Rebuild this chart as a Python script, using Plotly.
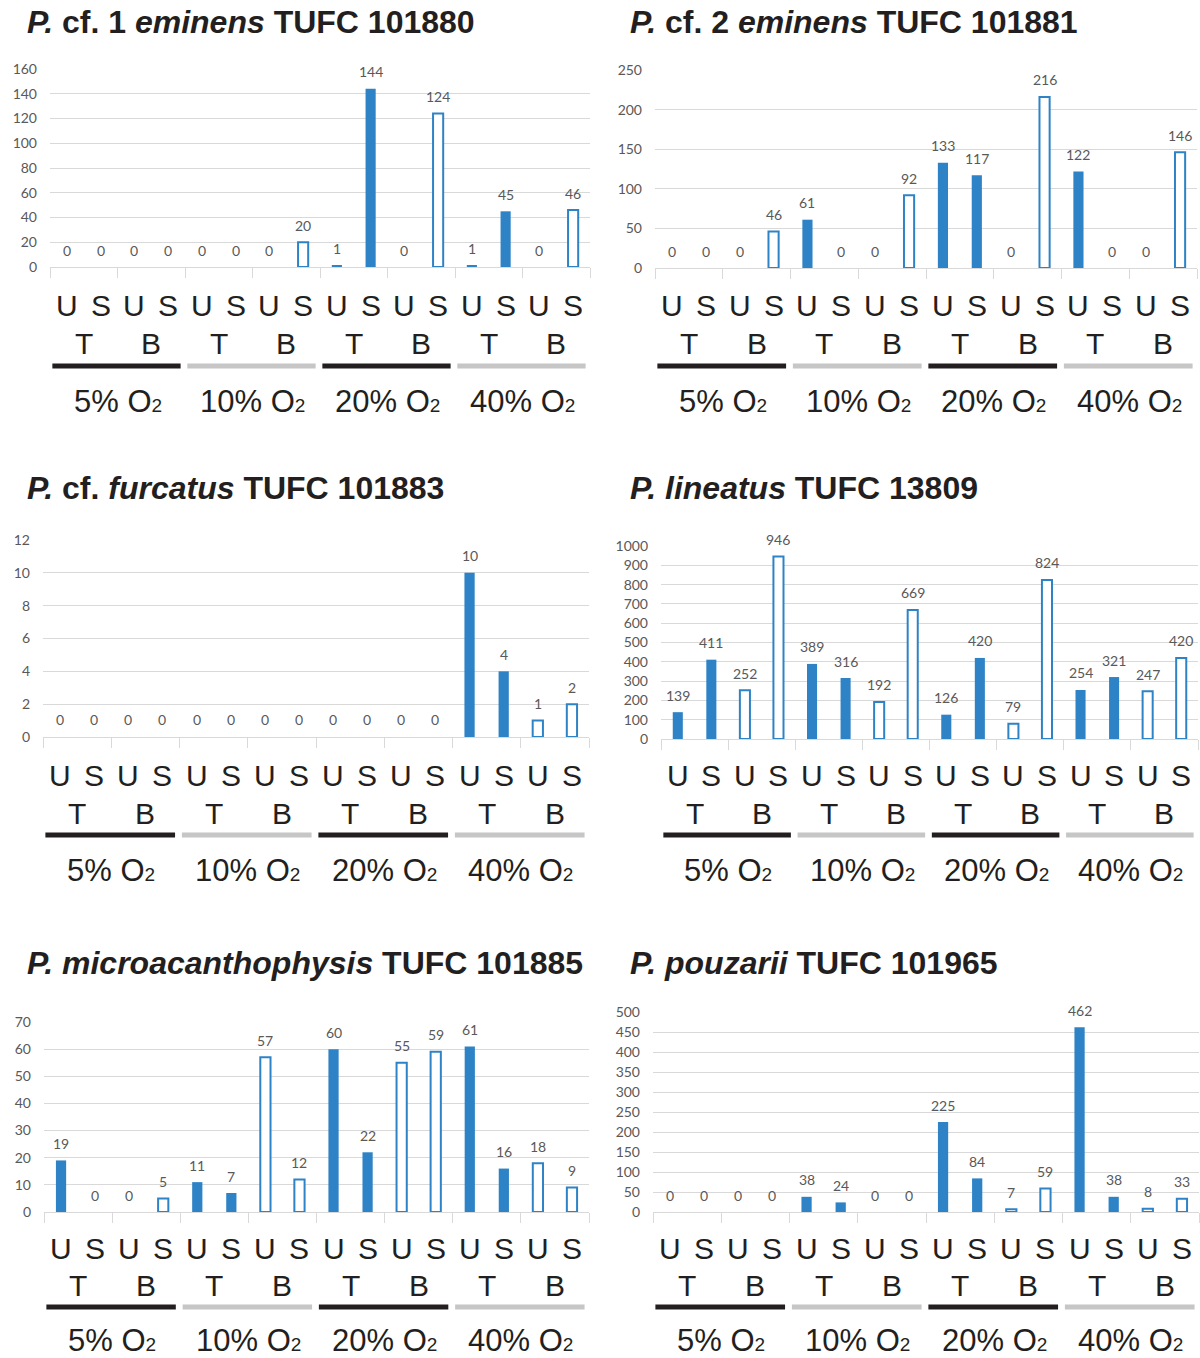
import plotly.graph_objects as go

# ---------------- data ----------------
O2_LEVELS = ["5% O<span style='font-size:19px'>2</span>",
             "10% O<span style='font-size:19px'>2</span>",
             "20% O<span style='font-size:19px'>2</span>",
             "40% O<span style='font-size:19px'>2</span>"]
POSITIONS = ["T", "B"]
TREATMENTS = ["U", "S"]

TITLES = [
    "<b><i>P.</i> cf. 1 <i>eminens</i> TUFC 101880</b>",
    "<b><i>P.</i> cf. 2 <i>eminens</i> TUFC 101881</b>",
    "<b><i>P.</i> cf. <i>furcatus</i> TUFC 101883</b>",
    "<b><i>P. lineatus</i> TUFC 13809</b>",
    "<b><i>P. microacanthophysis</i> TUFC 101885</b>",
    "<b><i>P. pouzarii</i> TUFC 101965</b>",
]

VALS_1 = [0, 0, 0, 0, 0, 0, 0, 20, 1, 144, 0, 124, 1, 45, 0, 46]
VALS_2 = [0, 0, 0, 46, 61, 0, 0, 92, 133, 117, 0, 216, 122, 0, 0, 146]
VALS_3 = [0, 0, 0, 0, 0, 0, 0, 0, 0, 0, 0, 0, 10, 4, 1, 2]
VALS_4 = [139, 411, 252, 946, 389, 316, 192, 669, 126, 420, 79, 824, 254, 321, 247, 420]
VALS_5 = [19, 0, 0, 5, 11, 7, 57, 12, 60, 22, 55, 59, 61, 16, 18, 9]
VALS_6 = [0, 0, 0, 0, 38, 24, 0, 0, 225, 84, 7, 59, 462, 38, 8, 33]

Y_MAX = [160, 250, 12, 1000, 70, 500]
Y_DTICK = [20, 50, 2, 100, 10, 50]

# ---------------- layout (pixels) ----------------
W, H = 1200, 1358
BLUE = "#2e83c6"
GRID = "#d9d9d9"
TXT = "#595959"
DARK = "#231f20"
LIGHT = "#c6c6c6"
NUM_FONT = "Lato, Open Sans, sans-serif"
LAB_FONT = "Liberation Sans, Arial, sans-serif"

# x0, x1, y_top, y_base, title_x, title_y
GEOM = [
    (50, 590, 69, 267, 25, 22),
    (655, 1197, 70, 268, 628, 22),
    (43, 589, 540, 737, 25, 488),
    (661, 1198, 546, 739, 628, 488),
    (44, 589, 1022, 1212, 25, 963),
    (653, 1199, 1012, 1212, 628, 963),
]
# label rows: U/S, T/B, line, O2 (pixel y)
ROWS = [
    (305, 343, 366, 401),
    (305, 343, 366, 401),
    (775, 813, 835, 870),
    (775, 813, 835, 870),
    (1248, 1285, 1307, 1340),
    (1248, 1285, 1307, 1340),
]


def fx(p):
    return p / W


def fy(p):
    return 1 - p / H


ALL_VALS = [VALS_1, VALS_2, VALS_3, VALS_4, VALS_5, VALS_6]

# category list: O2 level x position x treatment
cats = []
for oi, o2 in enumerate(O2_LEVELS):
    for pos in POSITIONS:
        for tr in TREATMENTS:
            cats.append((oi, pos, tr))
xs = list(range(len(cats)))

fig = go.Figure()
annotations = []
shapes = []
layout = {}

for k in range(6):
    vals = ALL_VALS[k]
    ax = "" if k == 0 else str(k + 1)
    xref, yref = "x" + ax, "y" + ax
    x0, x1, ytop, ybase, tx, ty = GEOM[k]

    t_idx = [i for i in xs if cats[i][1] == "T"]
    b_idx = [i for i in xs if cats[i][1] == "B"]

    fig.add_trace(go.Bar(
        x=t_idx, y=[vals[i] for i in t_idx],
        marker=dict(color=BLUE, line=dict(width=0)),
        width=0.3, showlegend=False, hoverinfo="x+y",
        xaxis=xref, yaxis=yref,
    ))
    fig.add_trace(go.Bar(
        x=b_idx, y=[vals[i] for i in b_idx],
        marker=dict(color="white", line=dict(
            width=[2 if vals[i] > 0 else 0 for i in b_idx], color=BLUE)),
        width=0.3, showlegend=False, hoverinfo="x+y",
        xaxis=xref, yaxis=yref,
    ))

    # value labels
    for i in xs:
        annotations.append(dict(
            text=str(vals[i]), xref=xref, yref=yref, x=i, y=vals[i],
            xanchor="center", yanchor="middle", yshift=17, showarrow=False,
            font=dict(family=NUM_FONT, size=14, color=TXT),
        ))

    xa = dict(
        domain=[fx(x0), fx(x1)], range=[-0.5, 15.5], anchor=yref,
        tickvals=[-0.5 + 2 * g for g in range(9)], showticklabels=False,
        ticks="outside", ticklen=10, tickcolor=GRID, tickwidth=1,
        showline=True, linecolor=GRID, linewidth=1,
        showgrid=False, zeroline=False, automargin=False,
    )
    ya = dict(
        domain=[fy(ybase), fy(ytop)], range=[0, Y_MAX[k]], anchor=xref,
        dtick=Y_DTICK[k], tick0=0, showgrid=True, gridcolor=GRID, gridwidth=1,
        zeroline=False, showline=False, ticks="", automargin=False,
        tickfont=dict(family=NUM_FONT, size=14, color=TXT),
        ticklabelstandoff=12,
    )
    layout["xaxis" + ax] = xa
    layout["yaxis" + ax] = ya

    # title
    annotations.append(dict(
        text=TITLES[k], xref="paper", yref="paper", x=fx(tx), y=fy(ty),
        xanchor="left", yanchor="middle", showarrow=False,
        font=dict(family=LAB_FONT, size=32, color=DARK),
    ))

    r_us, r_tb, r_line, r_o2 = ROWS[k]
    lab_font = dict(family=LAB_FONT, size=30, color=DARK)
    for i, (oi, pos, tr) in enumerate(cats):
        annotations.append(dict(
            text=tr, xref=xref, yref="paper", x=i, y=fy(r_us),
            xanchor="center", yanchor="middle", showarrow=False, font=lab_font,
        ))
    for oi in range(len(O2_LEVELS)):
        for pi, pos in enumerate(POSITIONS):
            annotations.append(dict(
                text=pos, xref=xref, yref="paper", x=4 * oi + 2 * pi + 0.5, y=fy(r_tb),
                xanchor="center", yanchor="middle", showarrow=False, font=lab_font,
            ))
        annotations.append(dict(
            text=O2_LEVELS[oi], xref=xref, yref="paper", x=4 * oi + 1.5, y=fy(r_o2),
            xanchor="center", yanchor="middle", showarrow=False,
            font=dict(family=LAB_FONT, size=31, color=DARK),
        ))
        shapes.append(dict(
            type="line", xref=xref, yref="paper",
            x0=4 * oi - 0.5 + 0.07, x1=4 * oi + 3.5 - 0.13,
            y0=fy(r_line), y1=fy(r_line),
            line=dict(color=DARK if oi % 2 == 0 else LIGHT, width=5),
        ))

fig.update_layout(
    template="none",
    width=W, height=H,
    margin=dict(l=0, r=0, t=0, b=0, pad=0, autoexpand=False),
    paper_bgcolor="white", plot_bgcolor="white",
    barmode="overlay", showlegend=False,
    annotations=annotations, shapes=shapes,
    **layout,
)

POST = (
    "document.documentElement.style.margin='0px';"
    "document.documentElement.style.padding='0px';"
    "document.documentElement.style.overflow='hidden';"
    "document.body.style.margin='0px';"
    "document.body.style.padding='0px';"
    "document.body.style.overflow='hidden';"
    "var gd=document.getElementById('{plot_id}');"
    "gd.style.position='absolute';gd.style.left='0px';gd.style.top='0px';"
)

fig.write_html("out.html", config={"displayModeBar": False}, post_script=POST)
